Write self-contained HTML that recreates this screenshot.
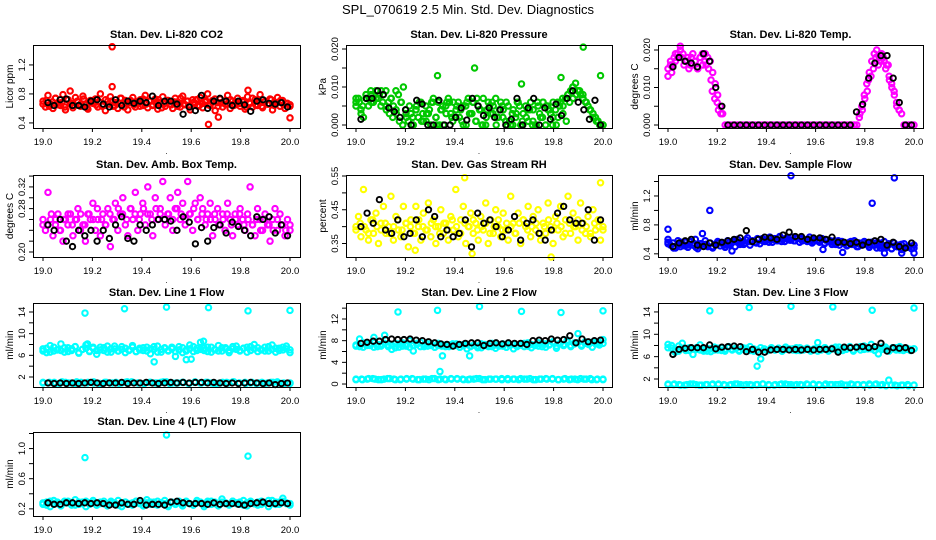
<!DOCTYPE html>
<html><head><meta charset="utf-8"><style>
html,body{margin:0;padding:0;background:#fff;}
svg{display:block;font-family:"Liberation Sans",sans-serif;}
</style></head><body>
<svg id="chart" width="936" height="540" viewBox="0 0 936 540">
<rect width="936" height="540" fill="#fff"/>
<text x="468" y="14" text-anchor="middle" font-size="13">SPL_070619  2.5 Min. Std. Dev. Diagnostics</text>
</svg>
<script>
// ---------- data ----------
const xTicks = [19.0,19.2,19.4,19.6,19.8,20.0];
const xTickLabels = ["19.0","19.2","19.4","19.6","19.8","20.0"];

const co2Band = [0.70,0.62,0.78,0.66,0.60,0.74,0.68,0.64,0.79,0.58,0.72,0.66,0.61,0.75,0.69,0.63,0.77,0.65,0.59,0.71,0.67,0.73,0.62,0.80,0.64,0.57,0.70,0.76,0.63,0.68,0.60,0.74,0.66,0.71,0.58,0.69,0.75,0.62,0.67,0.72,0.64,0.78,0.61,0.70,0.65,0.73,0.59,0.68,0.76,0.63,0.71,0.66,0.60,0.74,0.69,0.62,0.77,0.65,0.70,0.58,0.72,0.67,0.63,0.75,0.61,0.69,0.80,0.64,0.71,0.57,0.68,0.73,0.62,0.66,0.78,0.60,0.70,0.65,0.74,0.63,0.69,0.59,0.76,0.67,0.62,0.72,0.64,0.79,0.61,0.70,0.66,0.73,0.58,0.68,0.75,0.63,0.71,0.60,0.67,0.65];
const co2Band2 = [0.66,0.71,0.63,0.69,0.74,0.65,0.68,0.62,0.72,0.67,0.64,0.70,0.66,0.73,0.61,0.68,0.71,0.65,0.69,0.63,0.72,0.66,0.70,0.64,0.68,0.74,0.62,0.67,0.71,0.65,0.69,0.63,0.73,0.66,0.70,0.64,0.68,0.72,0.61,0.67,0.71,0.65,0.69,0.63,0.74,0.66,0.70,0.62,0.68,0.72,0.64,0.67,0.71,0.65,0.69,0.73,0.63,0.68,0.70,0.66,0.72,0.64,0.69,0.67,0.71,0.62,0.68,0.74,0.65,0.70,0.63,0.69,0.66,0.72,0.64,0.68,0.71,0.65,0.67,0.63];
const co2OutT = [19.28,19.28,19.67,19.71,20.0,19.11,19.83];
const co2OutV = [1.45,0.90,0.38,0.48,0.47,0.84,0.85];
const co2Black = [0.68,0.64,0.72,0.73,0.64,0.64,0.62,0.70,0.72,0.66,0.62,0.72,0.64,0.70,0.67,0.70,0.68,0.77,0.64,0.70,0.70,0.66,0.52,0.62,0.57,0.78,0.60,0.70,0.74,0.70,0.64,0.70,0.65,0.56,0.70,0.72,0.67,0.66,0.68,0.62];

const presBand = [0.006,0.007,0.004,0.002,0.007,0.005,0.008,0.006,0.009,0.007,0.005,0.008,0.009,0.006,0.007,0.005,0.009,0.008,0.006,0.010,0.004,0.001,0.003,0.000,0.004,0.002,0.006,0.001,0.005,0.003,0.000,0.007,0.002,0.006,0.004,0.000,0.005,0.007,0.003,0.006,0.002,0.006,0.004,0.000,0.005,0.007,0.003,0.006,0.001,0.005,0.004,0.007,0.000,0.006,0.003,0.005,0.007,0.002,0.006,0.004,0.001,0.005,0.000,0.004,0.002,0.006,0.000,0.003,0.005,0.001,0.006,0.004,0.000,0.005,0.002,0.006,0.000,0.004,0.003,0.006,0.004,0.002,0.006,0.005,0.007,0.008,0.009,0.010,0.011,0.009,0.008,0.007,0.006,0.005,0.004,0.003,0.002,0.001,0.000,0.000];
const presBand2 = [0.005,0.003,0.008,0.006,0.007,0.009,0.004,0.007,0.003,0.006,0.002,0.000,0.005,0.001,0.003,0.006,0.000,0.004,0.006,0.002,0.005,0.001,0.006,0.003,0.007,0.000,0.004,0.006,0.002,0.005,0.000,0.003,0.006,0.001,0.004,0.000,0.006,0.002,0.005,0.000,0.006,0.007,0.008,0.010,0.009,0.007,0.005,0.003,0.001,0.000];
const presBand3 = [0.007,0.006,0.005,0.008,0.007,0.006,0.007,0.008,0.006,0.005,0.003,0.002,0.004,0.001,0.000,0.003,0.005,0.002,0.004,0.006,0.003,0.001,0.004,0.006,0.002,0.000,0.005,0.003,0.006,0.001,0.004,0.002,0.005,0.000,0.003,0.006,0.001,0.004,0.000,0.002,0.005,0.003,0.000,0.004,0.002,0.006,0.001,0.000,0.003,0.005,0.000,0.002,0.004,0.001,0.000,0.003,0.006,0.005,0.004,0.002,0.000,0.005,0.003,0.001,0.006,0.007,0.008,0.009,0.008,0.006,0.004,0.002,0.001,0.000,0.000];
const presOutT = [19.48,19.33,19.92,19.83,19.67,19.99,19.06];
const presOutV = [0.0150,0.0130,0.0205,0.0125,0.0108,0.0130,0.0090];
const presBlack = [0.0015,0.007,0.007,0.009,0.008,0.0045,0.0035,0.002,0.004,0.000,0.0065,0.0055,0.000,0.000,0.0065,0.000,0.000,0.002,0.0045,0.0013,0.007,0.005,0.0025,0.0045,0.002,0.004,0.000,0.0015,0.007,0.000,0.0045,0.007,0.000,0.0045,0.0015,0.0055,0.0025,0.007,0.009,0.006,0.004,0.0015,0.0065,0.000];

const tempBand = [0.015,0.017,0.016,0.019,0.018,0.020,0.019,0.017,0.018,0.016,0.019,0.017,0.015,0.018,0.016,0.019,0.018,0.017,0.014,0.011,0.008,0.005,0.003,0,0,0,0,0,0,0,0,0,0,0,0,0,0,0,0,0,0,0,0,0,0,0,0,0,0,0,0,0,0,0,0,0,0,0,0,0,0,0,0,0,0,0,0,0,0,0,0,0,0,0,0,0,0,0.002,0.005,0.008,0.011,0.014,0.017,0.019,0.020,0.018,0.019,0.017,0.016,0.013,0.011,0.009,0.006,0.004,0.003,0,0,0,0,0];
const tempHumpT = [19.0,19.01,19.015,19.025,19.03,19.04,19.05,19.055,19.065,19.075,19.085,19.095,19.1,19.11,19.12,19.13,19.14,19.15,19.155,19.165,19.175,19.18,19.19,19.2,19.205,19.215,19.78,19.79,19.8,19.81,19.815,19.825,19.835,19.845,19.855,19.865,19.875,19.885,19.895,19.9,19.91,19.92,19.93,19.94];
const tempHumpV = [0.013,0.016,0.014,0.018,0.017,0.019,0.021,0.018,0.016,0.017,0.015,0.018,0.016,0.017,0.015,0.018,0.019,0.017,0.016,0.015,0.012,0.009,0.007,0.006,0.004,0.003,0.003,0.004,0.007,0.009,0.012,0.013,0.015,0.018,0.016,0.017,0.018,0.015,0.016,0.012,0.010,0.008,0.005,0.004];
const tempBlack = [0.0155,0.018,0.017,0.0165,0.0155,0.019,0.017,0.010,0.005,0,0,0,0,0,0,0,0,0,0,0,0,0,0,0,0,0,0,0,0,0,0.0035,0.0055,0.0125,0.0165,0.0185,0.0185,0.0125,0.006,0,0];

const boxBand = [0.25,0.24,0.31,0.26,0.23,0.25,0.27,0.24,0.22,0.26,0.25,0.27,0.23,0.26,0.28,0.24,0.25,0.22,0.27,0.26,0.29,0.24,0.26,0.23,0.27,0.25,0.28,0.21,0.26,0.29,0.24,0.27,0.30,0.25,0.23,0.28,0.26,0.31,0.24,0.27,0.29,0.25,0.32,0.27,0.23,0.30,0.26,0.28,0.33,0.25,0.27,0.30,0.24,0.28,0.31,0.26,0.29,0.25,0.33,0.27,0.24,0.29,0.26,0.30,0.28,0.25,0.27,0.29,0.23,0.26,0.28,0.25,0.27,0.24,0.29,0.26,0.23,0.27,0.25,0.28,0.26,0.24,0.27,0.32,0.25,0.23,0.28,0.26,0.24,0.27,0.25,0.22,0.26,0.28,0.24,0.27,0.25,0.23,0.26,0.24];
const boxBand2 = [0.26,0.25,0.27,0.26,0.24,0.26,0.27,0.25,0.26,0.27,0.25,0.27,0.26,0.28,0.26,0.25,0.27,0.26,0.28,0.27,0.26,0.28,0.27,0.26,0.28,0.27,0.26,0.28,0.27,0.26,0.27,0.26,0.28,0.27,0.26,0.27,0.28,0.26,0.27,0.26,0.26,0.27,0.25,0.26,0.27,0.25,0.26,0.27,0.25,0.26,0.25,0.26,0.24,0.26,0.25,0.24,0.26,0.25,0.24,0.25];
const boxBlack = [0.25,0.24,0.26,0.22,0.21,0.24,0.23,0.24,0.22,0.24,0.225,0.25,0.265,0.225,0.22,0.25,0.24,0.25,0.26,0.26,0.257,0.24,0.265,0.255,0.215,0.245,0.22,0.245,0.25,0.235,0.255,0.247,0.24,0.23,0.265,0.26,0.265,0.235,0.25,0.23];

const rhBand = [0.40,0.43,0.37,0.51,0.39,0.36,0.42,0.38,0.44,0.35,0.41,0.46,0.38,0.40,0.49,0.36,0.43,0.39,0.37,0.46,0.41,0.34,0.42,0.38,0.46,0.40,0.36,0.44,0.39,0.47,0.37,0.42,0.35,0.40,0.45,0.38,0.41,0.36,0.43,0.39,0.51,0.37,0.42,0.46,0.35,0.40,0.44,0.38,0.41,0.36,0.43,0.39,0.47,0.35,0.42,0.38,0.45,0.40,0.37,0.44,0.39,0.36,0.49,0.41,0.38,0.44,0.35,0.42,0.40,0.46,0.37,0.43,0.39,0.45,0.36,0.41,0.38,0.47,0.40,0.35,0.43,0.39,0.46,0.37,0.42,0.49,0.38,0.44,0.40,0.36,0.47,0.41,0.38,0.43,0.37,0.45,0.39,0.42,0.36,0.40];
const rhBand2 = [0.39,0.41,0.40,0.38,0.42,0.40,0.39,0.41,0.38,0.40,0.42,0.39,0.41,0.40,0.38,0.42,0.40,0.39,0.41,0.40,0.38,0.41,0.39,0.42,0.40,0.38,0.41,0.40,0.42,0.39,0.40,0.41,0.38,0.40,0.42,0.39,0.41,0.40,0.38,0.41,0.42,0.39,0.40,0.41,0.38,0.40,0.42,0.39,0.41,0.40,0.38,0.41,0.40,0.42,0.39,0.40,0.38,0.41,0.40,0.39];
const rhOutT = [19.44,19.99,19.79,19.47,19.24];
const rhOutV = [0.545,0.53,0.31,0.32,0.33];
const rhBlack = [0.40,0.44,0.41,0.48,0.39,0.38,0.42,0.37,0.38,0.42,0.37,0.45,0.43,0.37,0.39,0.37,0.38,0.42,0.34,0.44,0.41,0.42,0.40,0.37,0.39,0.43,0.36,0.41,0.42,0.38,0.36,0.39,0.44,0.46,0.42,0.41,0.41,0.45,0.36,0.42];

const flowBand = [0.60,0.52,0.55,0.48,0.58,0.50,0.53,0.56,0.49,0.57,0.52,0.60,0.47,0.54,0.51,0.58,0.50,0.55,0.48,0.53,0.57,0.51,0.54,0.49,0.58,0.52,0.56,0.50,0.60,0.53,0.57,0.55,0.62,0.52,0.58,0.56,0.60,0.54,0.61,0.57,0.59,0.63,0.56,0.61,0.58,0.64,0.60,0.57,0.62,0.59,0.63,0.58,0.61,0.56,0.62,0.59,0.57,0.63,0.55,0.60,0.58,0.56,0.61,0.54,0.59,0.57,0.53,0.58,0.55,0.52,0.57,0.54,0.51,0.56,0.53,0.58,0.50,0.55,0.52,0.57,0.54,0.50,0.56,0.52,0.48,0.55,0.51,0.57,0.49,0.53,0.47,0.55,0.50,0.52,0.46,0.54,0.49,0.51,0.47,0.52];
const flowBand2 = [0.54,0.50,0.56,0.52,0.55,0.51,0.53,0.49,0.55,0.52,0.54,0.56,0.53,0.57,0.55,0.58,0.56,0.59,0.57,0.60,0.58,0.61,0.59,0.60,0.57,0.59,0.56,0.58,0.55,0.57,0.54,0.56,0.53,0.55,0.52,0.54,0.51,0.53,0.50,0.52];
const flowBand3 = [0.56,0.48,0.53,0.51,0.57,0.49,0.54,0.52,0.50,0.55,0.53,0.56,0.58,0.55,0.59,0.57,0.61,0.58,0.62,0.60,0.63,0.61,0.59,0.62,0.58,0.60,0.57,0.59,0.55,0.58,0.53,0.56,0.52,0.55,0.50,0.53,0.49,0.52,0.48,0.51,0.47,0.50,0.46,0.49,0.48];
const flowOutT = [19.17,19.5,19.83,19.92,19.0,19.14,19.26,19.63,19.71,19.88,19.95,20.0];
const flowOutV = [1.0,1.48,1.1,1.45,0.74,0.68,0.44,0.46,0.42,0.41,0.41,0.41];
const flowBlack = [0.50,0.55,0.58,0.60,0.52,0.50,0.55,0.52,0.56,0.58,0.60,0.62,0.72,0.57,0.60,0.63,0.62,0.60,0.66,0.70,0.64,0.64,0.60,0.62,0.62,0.60,0.63,0.56,0.56,0.54,0.56,0.52,0.56,0.58,0.60,0.52,0.56,0.50,0.48,0.55];

const l1Upper = [7.2,6.5,7.8,6.8,7.0,8.1,6.6,7.4,6.9,7.6,6.4,7.1,7.9,6.7,7.3,6.2,7.5,6.9,7.7,6.6,7.2,6.8,7.6,6.5,7.0,7.8,6.7,7.3,6.9,7.5,6.3,7.1,7.7,6.6,7.4,6.8,7.2,5.8,7.6,6.5,7.0,7.9,6.7,7.3,8.4,6.9,7.5,6.6,7.1,7.8,6.8,7.4,6.5,7.2,7.7,6.9,7.3,6.6,7.6,8.0,6.7,7.1,7.5,6.8,7.9,6.6,7.3,7.0,7.7,6.5];
const l1Upper2 = [6.8,7.3,6.6,7.5,7.0,6.9,7.4,6.7,7.2,7.6,6.5,7.1,7.3,6.8,7.5,6.9,7.0,7.4,6.6,7.2,7.7,6.8,7.1,7.3,6.9,7.5,6.7,7.0,7.4,6.8,7.2,7.6,6.6,7.1,7.3,6.9,7.5,6.7,7.0,7.4,6.8,7.2,7.6,6.9,7.1,7.3,6.7,7.5,7.0,6.8,7.4,7.2,6.9,7.6,7.1,6.8,7.3,7.5,6.9,7.2,7.4,7.0,6.8,7.6,7.1,7.3,6.9,7.5,7.2,7.0];
const l1Lower = [0.9,1.0,0.8,1.1,0.9,0.8,1.0,0.9,1.1,0.8,1.0,0.9,0.8,1.0,1.1,0.9,0.8,1.0,0.9,1.1,0.8,0.9,1.0,0.8,1.1,0.9,1.0,0.8,0.9,1.0,1.1,0.9,0.8,1.0,0.9,0.8,1.0,1.1,0.9,0.8];
const l1Lower2 = [1.0,0.9,1.0,0.8,1.0,0.9,1.1,0.9,1.0,0.9,0.8,1.0,0.9,1.0,0.9,1.1,1.0,0.9,0.8,1.0,0.9,1.0,1.1,0.9,0.9,1.0,0.8,1.0,0.9,1.0,0.9,0.8,1.0,0.9,1.1,0.9,1.0,0.9,0.8,1.0,0.9,1.0,0.9,0.8,0.9];
const l1OutT = [19.17,19.33,19.5,19.67,19.83,20.0,19.45,19.58,19.6,19.65,19.18];
const l1OutV = [13.8,14.6,14.9,14.8,14.2,14.3,4.8,5.2,5.3,8.6,8.1];
const l1Black = [0.9,0.8,0.9,0.8,0.9,0.8,0.9,1.0,0.9,0.8,0.9,0.9,1.0,0.8,0.9,0.9,1.0,0.9,0.8,0.9,1.0,0.9,1.0,0.9,1.0,1.0,0.9,1.0,0.9,0.8,0.9,0.8,0.9,1.0,0.9,0.8,0.9,0.6,0.8,0.9];

const l2Upper = [7.0,8.3,6.8,7.4,7.1,8.6,6.9,7.3,9.0,7.2,6.4,7.5,6.8,7.6,7.0,8.0,6.1,7.3,7.7,6.9,7.4,7.1,6.8,7.5,7.0,7.2,6.9,7.4,7.1,6.8,7.3,6.5,7.0,7.2,6.7,7.4,7.1,6.9,7.5,6.6,7.2,7.0,6.8,7.3,6.5,7.1,7.4,6.9,7.6,6.7,7.2,7.0,7.5,6.8,7.3,7.8,6.6,7.4,7.1,8.1,6.9,7.6,9.3,7.0,7.8,7.4,6.8,7.7,7.2,8.2];
const l2Upper2 = [7.2,6.9,7.6,7.1,7.4,6.8,7.3,7.0,7.5,6.9,7.2,6.7,7.4,7.0,7.3,6.8,7.1,7.5,6.9,7.2,7.0,7.4,6.8,7.1,7.3,6.9,7.2,7.0,7.4,6.8,7.1,7.3,6.9,7.2,7.0,6.7,7.3,7.1,6.9,7.2,7.0,7.4,6.8,7.1,7.3,6.9,7.2,7.5,7.0,7.3,7.1,7.6,6.9,7.4,7.2,7.7,7.0,7.5,7.3,7.8,7.1,7.4,7.6,7.2,7.5,7.3,7.7,7.4,7.6,7.5];
const l2Lower = [0.9,0.8,1.0,0.9,0.8,1.0,0.9,0.8,1.0,0.9,0.8,0.9,1.0,0.8,0.9,1.0,0.9,0.8,0.9,1.0,0.8,0.9,0.9,1.0,0.8,0.9,1.0,0.9,0.8,0.9,1.0,0.9,0.8,1.0,0.9,0.8,0.9,1.0,0.8,0.9];
const l2Lower2 = [0.8,0.9,0.9,1.0,0.8,0.9,1.0,0.8,0.9,0.9,1.0,0.8,0.9,0.8,1.0,0.9,0.8,0.9,1.0,0.9,0.8,0.9,1.0,0.8,0.9,0.9,0.8,1.0,0.9,0.8,0.9,1.0,0.8,0.9,0.9,1.0,0.8,0.9,0.8,0.9,1.0,0.9,0.8,0.9,0.8];
const l2OutT = [19.17,19.33,19.5,19.67,19.83,20.0,19.34,19.35,19.46];
const l2OutV = [13.3,13.6,14.3,13.4,13.2,13.5,2.3,5.2,5.2];
const l2Black = [7.5,7.7,7.9,7.9,8.2,8.3,8.2,8.2,8.3,8.1,8.0,7.8,7.6,7.4,7.3,7.0,7.3,7.5,7.6,7.6,7.1,7.5,7.6,7.4,7.6,7.5,7.5,7.3,8.0,8.1,8.0,8.3,8.1,8.2,8.9,7.6,8.3,7.8,8.0,8.1];

const l3Upper = [8.2,7.5,6.8,7.9,8.4,7.1,7.6,6.4,7.3,8.1,7.0,7.5,6.9,7.7,7.2,7.6,7.0,7.8,7.3,7.5,7.1,7.6,7.3,7.8,7.0,4.3,5.6,7.4,7.1,7.6,7.2,7.5,7.0,7.7,7.3,7.4,7.1,7.6,7.2,7.5,7.0,7.3,8.5,7.2,7.6,7.0,7.4,7.7,7.1,7.5,7.3,7.8,7.0,7.6,7.2,7.9,7.4,8.2,7.1,6.5,7.7,7.3,7.0,7.6,7.2,7.8,7.1,7.5,7.3,7.4];
const l3Upper2 = [7.6,8.0,7.2,7.0,7.5,7.3,7.1,7.4,7.6,7.2,7.3,7.0,7.4,7.2,7.5,7.1,7.3,7.6,7.2,7.4,7.0,7.3,7.5,7.1,7.4,7.2,7.6,7.3,7.1,7.4,7.2,7.5,7.0,7.3,7.4,7.2,7.6,7.1,7.3,7.5,7.2,7.4,7.0,7.3,7.6,7.2,7.5,7.3,7.7,7.1,7.4,7.6,7.2,7.5,7.8,7.3,7.6,7.4,7.2,7.5,7.3,7.7,7.1,7.4,7.6,7.2,7.5,7.3,7.1,7.4];
const l3Lower = [1.0,1.1,0.9,1.0,1.1,0.9,1.0,1.0,1.1,0.9,1.0,1.1,0.9,1.0,1.0,1.1,0.9,1.0,1.1,1.0,0.9,1.0,1.1,1.0,0.9,1.1,1.0,1.0,0.9,1.1,1.0,1.0,0.9,1.1,1.0,1.8,0.9,0.9,1.0,0.9];
const l3Lower2 = [1.1,1.0,1.0,0.9,1.1,1.0,0.9,1.0,1.1,1.0,1.0,0.9,1.1,1.0,1.0,0.9,1.0,1.1,1.0,0.9,1.0,1.1,1.0,1.0,0.9,1.0,1.1,1.0,0.9,1.0,1.0,1.1,0.9,1.0,1.0,0.9,1.1,1.0,0.9,0.8,0.9,0.8,0.9,0.8,0.9];
const l3OutT = [19.17,19.33,19.5,19.67,19.83,20.0];
const l3OutV = [14.2,14.8,15.0,14.9,14.3,14.7];
const l3Black = [6.4,7.3,7.5,7.6,7.6,7.6,8.1,7.4,7.7,7.8,7.9,7.8,6.9,7.3,6.8,6.8,7.2,7.3,7.3,7.2,7.3,7.2,7.3,7.2,7.3,7.3,7.4,6.8,7.7,7.6,7.7,7.8,7.6,7.8,8.4,7.0,7.6,7.5,7.6,7.1];

const l4Band = [0.26,0.29,0.23,0.31,0.27,0.24,0.30,0.28,0.25,0.32,0.26,0.29,0.23,0.28,0.31,0.25,0.27,0.30,0.24,0.28,0.26,0.31,0.23,0.29,0.27,0.25,0.30,0.28,0.24,0.32,0.26,0.29,0.25,0.27,0.31,0.23,0.28,0.26,0.30,0.24,0.29,0.27,0.25,0.31,0.28,0.23,0.30,0.26,0.29,0.24,0.33,0.27,0.25,0.30,0.28,0.26,0.31,0.24,0.29,0.27,0.25,0.30,0.28,0.23,0.31,0.26,0.29,0.34,0.27,0.25];
const l4Band2 = [0.28,0.25,0.30,0.27,0.29,0.26,0.28,0.30,0.27,0.25,0.29,0.27,0.30,0.26,0.28,0.25,0.29,0.27,0.26,0.30,0.28,0.25,0.27,0.29,0.26,0.28,0.30,0.27,0.25,0.28,0.29,0.26,0.30,0.28,0.27,0.25,0.29,0.27,0.28,0.26,0.30,0.27,0.25,0.28,0.29,0.26,0.28,0.30,0.27,0.25,0.29,0.28,0.26,0.30,0.27,0.29,0.25,0.28,0.30,0.27,0.29,0.26,0.28,0.31,0.27,0.29,0.26,0.30,0.28,0.27];
const l4OutT = [19.17,19.5,19.83];
const l4OutV = [0.88,1.18,0.90];
const l4Black = [0.28,0.26,0.26,0.28,0.28,0.27,0.28,0.27,0.28,0.27,0.25,0.25,0.28,0.26,0.26,0.31,0.25,0.26,0.26,0.25,0.29,0.30,0.28,0.27,0.27,0.27,0.26,0.28,0.26,0.27,0.27,0.26,0.25,0.27,0.28,0.29,0.27,0.27,0.28,0.27];

// ---------- layout ----------
const cols = [{L:33,R:300,x0:43,x1:290},{L:346,R:612,x0:356,x1:603},{L:658,R:923,x0:668,x1:914}];
const rows = [{T:45,B:128},{T:175,B:257},{T:303,B:387},{T:432,B:516}];
const RED="#ff0000",GRN="#00c800",MAG="#ff00ff",YEL="#ffff00",BLU="#0000ff",CYN="#00ffff";

const panels = [
 {id:"co2",title:"Stan. Dev. Li-820 CO2",yl:"Licor ppm",r:0,c:0,ymin:0.33,ymax:1.475,ticks:[0.4,0.6,0.8,1.0,1.2],labs:[0.4,0.8,1.2],dec:1,
  series:[{v:co2Band,col:RED},{v:co2Band2,col:RED},{t:co2OutT,v:co2OutV,col:RED},{v:co2Black,col:"#000",blk:1}]},
 {id:"pressure",title:"Stan. Dev. Li-820 Pressure",yl:"kPa",r:0,c:1,ymin:-0.00079,ymax:0.02105,ticks:[0,0.005,0.01,0.015,0.02],labs:[0,0.01,0.02],dec:3,
  series:[{v:presBand,col:GRN},{v:presBand2,col:GRN},{v:presBand3,col:GRN},{t:presOutT,v:presOutV,col:GRN},{v:presBlack,col:"#000",blk:1}]},
 {id:"temp",title:"Stan. Dev. Li-820 Temp.",yl:"degrees C",r:0,c:2,ymin:-0.0008,ymax:0.02133,ticks:[0,0.005,0.01,0.015,0.02],labs:[0,0.01,0.02],dec:3,
  series:[{v:tempBand,col:MAG},{t:tempHumpT,v:tempHumpV,col:MAG},{v:tempBlack,col:"#000",blk:1}]},
 {id:"ambbox",title:"Stan. Dev. Amb. Box Temp.",yl:"degrees C",r:1,c:0,ymin:0.1908,ymax:0.342,ticks:[0.20,0.22,0.24,0.26,0.28,0.30,0.32,0.34],labs:[0.20,0.28,0.32],dec:2,
  series:[{v:boxBand,col:MAG},{v:boxBand2,col:MAG},{v:boxBlack,col:"#000",blk:1}]},
 {id:"rh",title:"Stan. Dev. Gas Stream RH",yl:"percent",r:1,c:1,ymin:0.31,ymax:0.553,ticks:[0.35,0.40,0.45,0.50,0.55],labs:[0.35,0.45,0.55],dec:2,
  series:[{v:rhBand,col:YEL},{v:rhBand2,col:YEL},{t:rhOutT,v:rhOutV,col:YEL},{v:rhBlack,col:"#000",blk:1}]},
 {id:"sampleflow",title:"Stan. Dev. Sample Flow",yl:"ml/min",r:1,c:2,ymin:0.356,ymax:1.49,ticks:[0.4,0.6,0.8,1.0,1.2,1.4],labs:[0.4,0.8,1.2],dec:1,
  series:[{v:flowBand,col:BLU},{v:flowBand2,col:BLU},{v:flowBand3,col:BLU},{t:flowOutT,v:flowOutV,col:BLU},{v:flowBlack,col:"#000",blk:1}]},
 {id:"line1",title:"Stan. Dev. Line 1 Flow",yl:"ml/min",r:2,c:0,ymin:0.155,ymax:15.66,ticks:[2,4,6,8,10,12,14],labs:[2,6,10,14],dec:0,
  series:[{v:l1Upper,col:CYN},{v:l1Upper2,col:CYN},{v:l1Lower,col:CYN},{v:l1Lower2,col:CYN},{t:l1OutT,v:l1OutV,col:CYN},{v:l1Black,col:"#000",blk:1}]},
 {id:"line2",title:"Stan. Dev. Line 2 Flow",yl:"ml/min",r:2,c:1,ymin:-0.55,ymax:14.95,ticks:[0,2,4,6,8,10,12,14],labs:[0,4,8,12],dec:0,
  series:[{v:l2Upper,col:CYN},{v:l2Upper2,col:CYN},{v:l2Lower,col:CYN},{v:l2Lower2,col:CYN},{t:l2OutT,v:l2OutV,col:CYN},{v:l2Black,col:"#000",blk:1}]},
 {id:"line3",title:"Stan. Dev. Line 3 Flow",yl:"ml/min",r:2,c:2,ymin:0.57,ymax:15.6,ticks:[2,4,6,8,10,12,14],labs:[2,6,10,14],dec:0,
  series:[{v:l3Upper,col:CYN},{v:l3Upper2,col:CYN},{v:l3Lower,col:CYN},{v:l3Lower2,col:CYN},{t:l3OutT,v:l3OutV,col:CYN},{v:l3Black,col:"#000",blk:1}]},
 {id:"line4",title:"Stan. Dev. Line 4 (LT) Flow",yl:"ml/min",r:3,c:0,ymin:0.105,ymax:1.22,ticks:[0.2,0.4,0.6,0.8,1.0,1.2],labs:[0.2,0.6,1.0],dec:1,
  series:[{v:l4Band,col:CYN},{v:l4Band2,col:CYN},{t:l4OutT,v:l4OutV,col:CYN},{v:l4Black,col:"#000",blk:1}]}
];

const NS="http://www.w3.org/2000/svg";
const svg=document.getElementById("chart");
function mk(tag,attrs,parent){const e=document.createElementNS(NS,tag);for(const k in attrs)e.setAttribute(k,attrs[k]);(parent||svg).appendChild(e);return e;}

panels.forEach(p=>{
  const C=cols[p.c],R=rows[p.r];
  const g=mk("g",{});
  
  
  const xs=t=>C.x0+(t-19)*(C.x1-C.x0);
  const ys=v=>R.B-(v-p.ymin)/(p.ymax-p.ymin)*(R.B-R.T);
  const tt=mk("text",{x:(C.L+C.R)/2,y:R.T-7,"text-anchor":"middle","font-size":"11","font-weight":"bold"},g);
  tt.textContent=p.title;
  
  
  xTicks.forEach((t,i)=>{
    const x=xs(t);
    mk("line",{x1:x,x2:x,y1:R.B,y2:R.B+4,stroke:"#000","stroke-width":1},g);
    const tl=mk("text",{x:x,y:R.B+17,"text-anchor":"middle","font-size":"9.5"},g);
    tl.textContent=xTickLabels[i];
    
    
  });
  p.ticks.forEach(v=>{
    const y=ys(v);
    mk("line",{x1:C.L-4,x2:C.L,y1:y,y2:y,stroke:"#000","stroke-width":1},g);
  });
  p.labs.forEach(v=>{
    const y=ys(v);
    const tl=mk("text",{x:0,y:0,"text-anchor":"middle","font-size":"9.5",transform:`translate(${C.L-8},${y}) rotate(-90)`},g);
    tl.textContent=v.toFixed(p.dec);
    
    
  });
  const yl=mk("text",{x:0,y:0,"text-anchor":"middle","font-size":"10",transform:`translate(${C.L-20},${(R.T+R.B)/2}) rotate(-90)`},g);
  yl.textContent=p.yl;
  
  
  const dot=mk("text",{x:(C.L+C.R)/2,y:R.B+26,"text-anchor":"middle","font-size":"8"},g);
  dot.textContent=".";
  p.series.forEach(s=>{
    const n=s.v.length;
    s.v.forEach((v,i)=>{
      let t;
      if(s.t) t=s.t[i];
      else if(s.blk) t=19.02+i*(0.97/(n-1));
      else t=19+i/(n-1);
      const c=mk("circle",{cx:xs(t),cy:ys(v),r:2.7,fill:"none",stroke:s.col,"stroke-width":s.blk?1.9:2.1},g);
      
      
    });
  });
  const box=mk("rect",{x:C.L+0.5,y:R.T+0.5,width:C.R-C.L,height:R.B-R.T,fill:"none",stroke:"#000","stroke-width":1},g);
  
  
});
</script>
</body></html>
